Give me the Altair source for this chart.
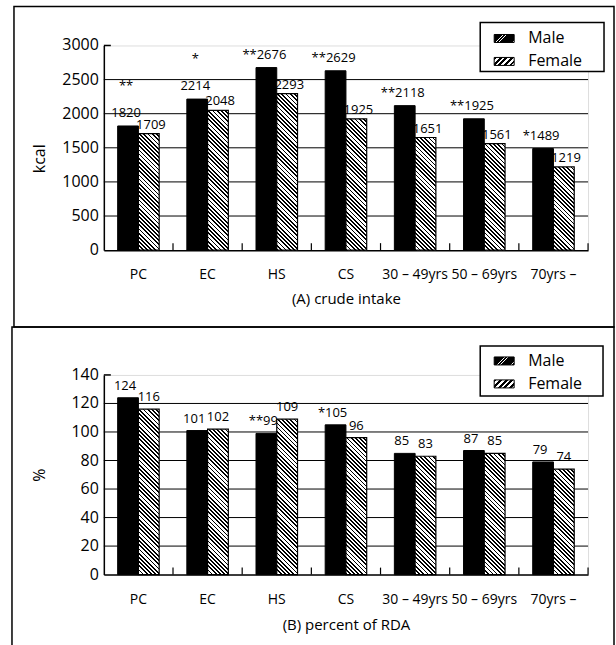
import altair as alt
import pandas as pd

# ---------------- data ----------------
categories = ["PC", "EC", "HS", "CS", "30 – 49yrs", "50 – 69yrs", "70yrs –"]
sexes = ["Male", "Female"]

kcal_male = [1820, 2214, 2676, 2629, 2118, 1925, 1489]
kcal_female = [1709, 2048, 2293, 1925, 1651, 1561, 1219]
kcal_male_labels = ["1820", "2214", "**2676", "**2629", "**2118", "**1925", "*1489"]
kcal_female_labels = ["1709", "2048", "2293", "1925", "1651", "1561", "1219"]
kcal_stars_above = ["**", "*", "", "", "", "", ""]
kcal_ticks = [0, 500, 1000, 1500, 2000, 2500, 3000]

rda_male = [124, 101, 99, 105, 85, 87, 79]
rda_female = [116, 102, 109, 96, 83, 85, 74]
rda_male_labels = ["124", "101", "**99", "*105", "85", "87", "79"]
rda_female_labels = ["116", "102", "109", "96", "83", "85", "74"]
rda_stars_above = ["", "", "", "", "", "", ""]
rda_ticks = [0, 20, 40, 60, 80, 100, 120, 140]

FONT = "Open Sans"
W = 485
STEP = W / len(categories)
SUB_W = 0.6 * STEP / 2


def hatch(w, h, period, frac, forward):
    """Striped linear gradient drawn in the bbox of a mark (45-degree lines)."""
    n = max(1, int(round((w + h) / period)))
    s = w * w + h * h
    a = w * (w + h) / s
    b = h * (w + h) / s
    if forward:      # '/' lines
        x1, y1, x2, y2 = 0, 0, a, b
    else:            # '\' lines
        x1, y1, x2, y2 = 0, 1, a, 1 - b
    stops = []
    for i in range(n):
        o0, o1, o2 = i / n, (i + frac) / n, (i + 1) / n
        stops += [
            alt.GradientStop(offset=o0, color="black"),
            alt.GradientStop(offset=o1, color="black"),
            alt.GradientStop(offset=o1, color="white"),
            alt.GradientStop(offset=o2, color="white"),
        ]
    return alt.LinearGradient(gradient="linear", stops=stops, x1=x1, y1=y1, x2=x2, y2=y2)


def panel(male, female, male_lab, female_lab, stars, ticks, height, ytitle, xtitle,
          fem_dx, fem_dy, fem_align, male_dx, male_dy, title_y, label_pad, ytitle_y,
          border, legend):
    ymax = ticks[-1]
    df = pd.DataFrame({
        "cat": categories * 2,
        "sex": ["Male"] * len(categories) + ["Female"] * len(categories),
        "value": male + female,
        "label": male_lab + female_lab,
        "stars": stars + [""] * len(categories),
    })
    yscale = alt.Scale(domain=[0, ymax], nice=False, zero=True)
    xscale = alt.Scale(domain=categories, paddingInner=0.4, paddingOuter=0.2)
    oscale = alt.Scale(domain=sexes, paddingInner=0, paddingOuter=0)
    yaxis = alt.Axis(values=ticks, labels=False, grid=False, ticks=False,
                     tickSize=0, domainColor="black", domainWidth=1.5,
                     title=ytitle, titleFont=FONT, titleFontSize=16,
                     titleFontWeight="normal", titleColor="black", titleX=-56,
                     titleY=ytitle_y, titleAngle=270, titleBaseline="bottom",
                     titleAlign="center")
    xaxis = alt.Axis(ticks=False, tickSize=0, labelAngle=0, labelFont=FONT, labelFontSize=14,
                     labelOverlap=False, labelColor="black", labelPadding=label_pad,
                     domainColor="black",
                     domainWidth=1.5, title=xtitle, titleFont=FONT, titleFontSize=15,
                     titleFontWeight="normal", titleColor="black", titleY=title_y,
                     titleBaseline="alphabetic")

    def X(**kw):
        return alt.X("cat:N", scale=xscale, axis=xaxis, sort=categories, **kw)

    def Y(field="value:Q"):
        return alt.Y(field, scale=yscale, axis=yaxis)

    def O():
        return alt.XOffset("sex:N", scale=oscale, sort=sexes)

    base = alt.Chart(df)
    one = alt.Chart(pd.DataFrame({"k": [0]}))

    layers = []
    # panel border
    bx1, by1, bx2, by2 = border
    layers.append(one.mark_rect(filled=False, stroke="black", strokeWidth=1.5).encode(
        x=alt.value(bx1), x2=alt.value(bx2), y=alt.value(by1), y2=alt.value(by2)))
    # grid lines and y tick labels
    grid_df = pd.DataFrame({"v": ticks[1:-1]})
    layers.append(alt.Chart(grid_df).mark_rule(color="black", strokeWidth=1).encode(y=Y("v:Q")))
    tick_lab_df = pd.DataFrame({"v": ticks})
    layers.append(alt.Chart(tick_lab_df).mark_text(
        font=FONT, fontSize=16, align="right", baseline="middle", dx=-5, color="black").encode(
        x=alt.value(0), y=Y("v:Q"), text=alt.Text("v:Q", format="d")))
    # labels (drawn under the bars)
    layers.append(base.transform_filter("datum.sex == 'Male'").mark_text(
        font=FONT, fontSize=13, align="center", baseline="alphabetic", dx=male_dx, dy=male_dy,
        color="black").encode(x=X(), xOffset=O(), y=Y(), text="label:N"))
    layers.append(base.transform_filter("datum.sex == 'Male' && datum.stars != ''").mark_text(
        font=FONT, fontSize=13, align="center", baseline="alphabetic", dx=male_dx,
        dy=male_dy - 27, color="black").encode(x=X(), xOffset=O(), y=Y(), text="stars:N"))
    layers.append(base.transform_filter("datum.sex == 'Female'").mark_text(
        font=FONT, fontSize=13, align=fem_align, baseline="alphabetic", dx=fem_dx, dy=fem_dy,
        color="black").encode(x=X(), xOffset=O(), y=Y(), text="label:N"))
    # male bars
    layers.append(base.transform_filter("datum.sex == 'Male'").mark_bar(
        fill="black", stroke="black", strokeWidth=1).encode(x=X(), xOffset=O(), y=Y()))
    # female bars, hatched
    for cat, val in zip(categories, female):
        h = val * height / ymax
        layers.append(base.transform_filter(
            f"datum.sex == 'Female' && datum.cat == '{cat}'").mark_bar(
            fill=hatch(SUB_W, h, 4.2, 0.42, False), stroke="black", strokeWidth=1.2).encode(
            x=X(), xOffset=O(), y=Y()))
    # inward ticks at band boundaries on x axis
    tick_df = pd.DataFrame({"cat": categories})
    layers.append(alt.Chart(tick_df).mark_rule(color="black", strokeWidth=1.2,
                                               xOffset=0.2 * STEP).encode(
        x=X(bandPosition=1), y=alt.datum(0), y2=alt.datum(ymax * 7 / height)))
    # top stub of y axis
    layers.append(one.mark_rule(color="black", strokeWidth=1.5).encode(
        x=alt.value(0), x2=alt.value(7), y=alt.datum(ymax)))
    # legend
    lx1, ly1, lx2, ly2, my, fy = legend
    layers.append(one.mark_rect(fill="white", stroke="black", strokeWidth=1.5).encode(
        x=alt.value(lx1), x2=alt.value(lx2), y=alt.value(ly1), y2=alt.value(ly2)))
    layers.append(one.mark_rect(fill=hatch(20, 8, 1.6, 0.88, True), stroke="black",
                                strokeWidth=1).encode(
        x=alt.value(lx1 + 14), x2=alt.value(lx1 + 34), y=alt.value(my - 4), y2=alt.value(my + 4)))
    layers.append(one.mark_rect(fill=hatch(20, 8, 5.5, 0.5, True), stroke="black",
                                strokeWidth=1).encode(
        x=alt.value(lx1 + 14), x2=alt.value(lx1 + 34), y=alt.value(fy - 4), y2=alt.value(fy + 4)))
    legend_df = pd.DataFrame({"name": sexes})
    layers.append(alt.Chart(legend_df).transform_filter("datum.name == 'Male'").mark_text(
        font=FONT, fontSize=16, align="left", baseline="middle", color="black").encode(
        x=alt.value(lx1 + 48), y=alt.value(my), text="name:N"))
    layers.append(alt.Chart(legend_df).transform_filter("datum.name == 'Female'").mark_text(
        font=FONT, fontSize=16, align="left", baseline="middle", color="black").encode(
        x=alt.value(lx1 + 48), y=alt.value(fy), text="name:N"))

    return alt.layer(*layers).properties(width=W, height=height)


top = panel(kcal_male, kcal_female, kcal_male_labels, kcal_female_labels, kcal_stars_above,
            kcal_ticks, 205, "kcal", "(A) crude intake",
            fem_dx=17, fem_dy=-5, fem_align="right", male_dx=-2, male_dy=-9,
            title_y=53, label_pad=17, ytitle_y=113,
            border=(-90, -39, 511, 282), legend=(377, -23, 501, 26, -7, 16))

bottom = panel(rda_male, rda_female, rda_male_labels, rda_female_labels, rda_stars_above,
               rda_ticks, 200, "%", "(B) percent of RDA",
               fem_dx=0, fem_dy=-8, fem_align="center", male_dx=-3, male_dy=-8,
               title_y=55, label_pad=18, ytitle_y=100,
               border=(-92, -48, 511, 290), legend=(377, -29, 500, 21, -14, 9))

chart = alt.vconcat(top, bottom, spacing=125, bounds="flush").properties(
    padding={"left": 10, "top": 4, "right": 0, "bottom": 0}
).configure_view(strokeWidth=0).configure(background="white")

chart.save("out.html", embed_options={"renderer": "svg", "actions": False})
